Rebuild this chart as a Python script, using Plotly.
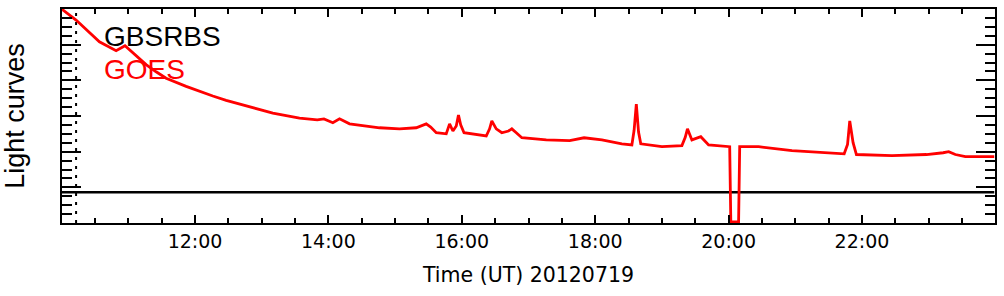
import pandas as pd
import plotly.graph_objects as go

DATE = "2012-07-19"

# GOES light curve, time in UT and value in arbitrary axis units
goes_time = ["10:00", "10:13", "10:34", "10:49", "10:57", "11:06", "11:16", "11:25",
             "11:34", "11:52", "12:04", "12:16", "12:28", "12:46", "13:10", "13:34",
             "13:50", "13:56", "14:04", "14:10", "14:19", "14:46", "15:04", "15:19",
             "15:24", "15:28", "15:32", "15:37", "15:46", "15:49", "15:52", "15:55",
             "15:57", "15:59", "16:02", "16:09", "16:22", "16:25", "16:27", "16:31",
             "16:36", "16:42", "16:45", "16:49", "16:54", "17:16", "17:37", "17:50",
             "18:06", "18:24", "18:33", "18:35", "18:37", "18:39", "18:41", "19:00",
             "19:18", "19:21", "19:23", "19:27", "19:35", "19:42", "20:01", "20:02",
             "20:09", "20:10", "20:27", "20:57", "21:28", "21:44", "21:47", "21:49",
             "21:52", "21:55", "22:27", "22:58", "23:13", "23:18", "23:24", "23:33",
             "23:59"]
goes_value = [6.00, 5.69, 5.08, 4.83, 4.97, 4.72, 4.44, 4.24,
              4.06, 3.83, 3.69, 3.56, 3.44, 3.28, 3.08, 2.94,
              2.89, 2.92, 2.81, 2.92, 2.78, 2.67, 2.64, 2.67,
              2.72, 2.78, 2.69, 2.53, 2.50, 2.78, 2.58, 2.72,
              3.03, 2.75, 2.53, 2.50, 2.44, 2.64, 2.86, 2.64,
              2.53, 2.58, 2.64, 2.53, 2.39, 2.33, 2.31, 2.39,
              2.33, 2.22, 2.19, 2.60, 3.33, 2.55, 2.22, 2.14,
              2.17, 2.40, 2.64, 2.33, 2.42, 2.19, 2.14, 0.03,
              0.03, 2.14, 2.14, 2.03, 1.97, 1.94, 2.20, 2.86,
              2.25, 1.92, 1.89, 1.92, 1.97, 2.00, 1.92, 1.86,
              1.86]

# GBSRBS light curve (flat line)
gbsrbs_time = ["10:00", "23:59"]
gbsrbs_value = [0.86, 0.86]

# dotted marker line
marker_time = "10:13"

legend_labels = ["GBSRBS", "GOES"]
legend_colors = ["black", "red"]


def to_dt(times):
    return [pd.Timestamp(f"{DATE} {t}") for t in times]


fig = go.Figure()
fig.add_trace(go.Scatter(x=to_dt([marker_time, marker_time]), y=[0, 6], mode="lines",
                         line=dict(color="black", width=2, dash="3px,6px"),
                         showlegend=False, hoverinfo="skip"))
fig.add_trace(go.Scatter(x=to_dt(gbsrbs_time), y=gbsrbs_value, mode="lines",
                         line=dict(color="black", width=2.5), name="GBSRBS", showlegend=False))
fig.add_trace(go.Scatter(x=to_dt(goes_time), y=goes_value, mode="lines",
                         line=dict(color="red", width=2.8), name="GOES", showlegend=False))

for i, (lab, col) in enumerate(zip(legend_labels, legend_colors)):
    fig.add_annotation(text=lab, xref="paper", yref="paper", x=0.0425,
                       y=[0.872, 0.717][i], xanchor="left", yanchor="middle",
                       showarrow=False,
                       font=dict(family="Liberation Sans", size=28, color=col))

fig.update_xaxes(
    type="date",
    range=[f"{DATE} 10:00:20", f"{DATE} 23:59:40"],
    tick0=f"{DATE} 00:00", dtick=7200000, tickformat="%H:%M",
    ticks="inside", ticklen=8, tickwidth=1.5, tickcolor="black",
    minor=dict(ticks="inside", ticklen=5, tickwidth=1.5, dtick=1800000,
               tick0=f"{DATE} 00:00", tickcolor="black", showgrid=False),
    showline=True, linewidth=2, linecolor="black", mirror="allticks",
    showgrid=False, zeroline=False,
    tickfont=dict(family="DejaVu Sans", size=19, color="black"),
    title=dict(text="Time (UT) 20120719", standoff=17,
               font=dict(family="DejaVu Sans", size=20.5, color="black")),
)
fig.update_yaxes(
    range=[0, 6], dtick=1, tick0=0,
    ticks="inside", ticklen=19, tickwidth=2, tickcolor="black",
    minor=dict(ticks="inside", ticklen=10, tickwidth=2, dtick=0.25, tickcolor="black",
               showgrid=False),
    showticklabels=False,
    showline=True, linewidth=2, linecolor="black", mirror="allticks",
    showgrid=False, zeroline=False,
    title=dict(text="Light curves", standoff=32,
               font=dict(family="Liberation Sans", size=27, color="black")),
)

fig.update_layout(
    width=1004, height=296,
    margin=dict(l=62, r=7, t=7, b=73),
    paper_bgcolor="white", plot_bgcolor="white",
    showlegend=False,
)

fig.write_html("out.html")
